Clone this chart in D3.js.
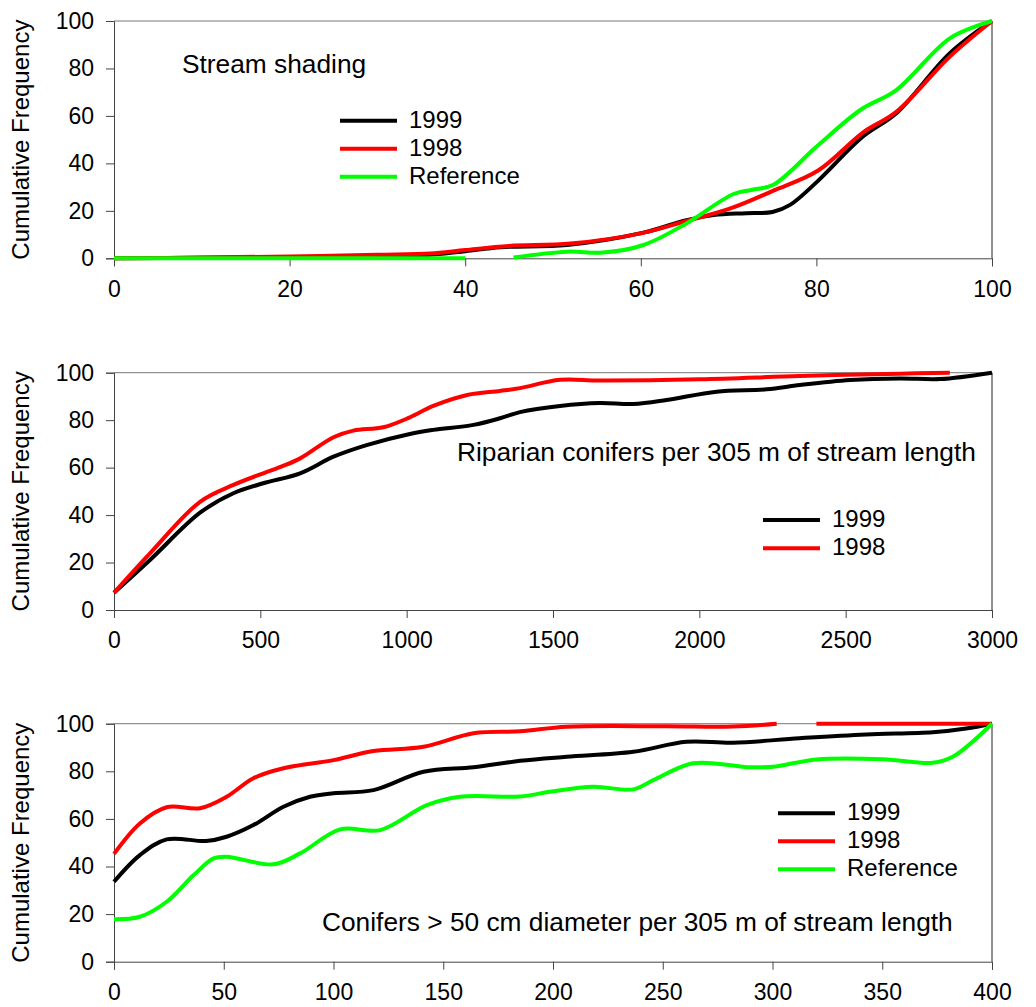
<!DOCTYPE html>
<html>
<head>
<meta charset="utf-8">
<script src="https://cdn.jsdelivr.net/npm/d3@7"></script>
<style>
  html, body { margin: 0; padding: 0; background: #fff; }
  svg { display: block; font-family: "Liberation Sans", Arial, sans-serif; }
</style>
</head>
<body>
<svg id="chart" width="1036" height="1007"></svg>
<script>
// ---- Panel 1: stream shading (%) ----
const shadeX1999 = [0, 10, 20, 30, 35, 40, 44, 51.6, 60.3, 65.2, 68.3, 72, 75, 77, 80, 85.3, 89.1, 95.2, 100];
const shadeY1999 = [0, 0.2, 0.4, 0.8, 1.2, 3.0, 4.7, 5.6, 10.8, 16.1, 18.2, 19.0, 19.5, 22.5, 32, 51.3, 61.1, 86.4, 100];
const shadeX1998 = [0, 10, 20, 30, 36, 40, 45, 52, 60, 65, 70.2, 75.1, 80.2, 85.3, 89.1, 95.2, 100];
const shadeY1998 = [0, 0.3, 0.8, 1.5, 2.0, 3.5, 5.2, 6.2, 10.5, 15.5, 21, 28.5, 37, 53, 61.7, 85, 100];
const shadeXRef  = [0, 20, 40, 43, 45.5, 51.6, 55.7, 60.3, 65.2, 70.5, 72.6, 75.1, 80, 85, 89.1, 95.2, 100];
const shadeYRef  = [0, 0, 0, null, 0.3, 2.8, 2.4, 5.6, 14.7, 27, 28.8, 31, 47, 62.5, 70.9, 92.7, 100];
const shadeTicks = [0, 20, 40, 60, 80, 100];

// ---- Panel 2: riparian conifers per 305 m ----
const riparX1999 = [0, 123, 294, 408, 510, 636, 750, 863, 1011, 1091, 1228, 1319, 1387, 1524, 1660, 1774, 1888, 2059, 2230, 2344, 2515, 2686, 2822, 3000];
const riparY1999 = [7.3, 21.1, 41, 49.2, 53.4, 57.6, 64.6, 69.5, 74.2, 75.9, 78.0, 80.8, 83.4, 86.0, 87.2, 86.8, 88.5, 92.0, 93.0, 94.8, 96.9, 97.6, 97.3, 100];
const riparX1998 = [0, 123, 294, 408, 510, 578, 636, 750, 818, 920, 1011, 1091, 1207, 1319, 1387, 1524, 1660, 2002, 2344, 2686, 2856];
const riparY1998 = [7.3, 23.9, 45.6, 52.7, 57.6, 60.7, 63.9, 72.8, 75.6, 77.0, 81.2, 86.0, 90.6, 92.3, 93.5, 97.0, 96.7, 97.2, 98.6, 99.6, 100];
const riparTicks = [0, 500, 1000, 1500, 2000, 2500, 3000];

// ---- Panel 3: conifers > 50 cm diameter per 305 m ----
const bigX1999 = [0, 11.8, 24, 41.9, 51.3, 63.5, 77.2, 89.3, 100, 118.2, 141, 163.8, 185, 206.2, 236.6, 260.8, 282, 312.3, 342.6, 373, 388.2, 400];
const bigY1999 = [33.6, 44.8, 51.4, 50.7, 52.5, 57.4, 65.1, 69.3, 70.8, 72.1, 79.8, 81.7, 84.4, 86.1, 88.2, 92.4, 92.0, 93.9, 95.5, 96.4, 98, 100];
const bigX1998 = [0, 11.8, 24, 39.2, 51.3, 63.5, 77.2, 100, 118.2, 141, 163.8, 185, 206.2, 251.7, 282, 301.9, 310, 320, 360, 400];
const bigY1998 = [45.3, 58.1, 64.9, 64.5, 69.3, 77.1, 81.3, 84.7, 88.5, 90.3, 96.0, 96.8, 98.7, 98.9, 98.8, 100, null, 100, 100, 100];
const bigXRef  = [0, 11.8, 24, 36.3, 45.4, 51.3, 72.6, 84.8, 103, 121.3, 142.5, 157.7, 185, 198.6, 218.3, 236.6, 245.7, 263.9, 289.7, 300.3, 320, 350.3, 373, 382.1, 400];
const bigYRef  = [17.8, 18.9, 25.2, 36.4, 43.4, 44.1, 40.9, 45.5, 55.6, 55.3, 65.8, 69.3, 69.4, 71.4, 73.5, 72.4, 76.3, 83.4, 81.7, 81.9, 85.0, 85.1, 83.6, 86.1, 100];
const bigTicks = [0, 50, 100, 150, 200, 250, 300, 350, 400];

const freqTicks = [0, 20, 40, 60, 80, 100];
const seriesNames = ["1999", "1998", "Reference"];
const seriesColors = { "1999": "#000000", "1998": "#ff0000", "Reference": "#00ff00" };

const svg = d3.select("#chart");
const left = 114, right = 992;

function zipSeries(xs, ys) {
  return xs.map((x, i) => ({ x, y: ys[i] }));
}

function drawPanel(cfg) {
  const x = d3.scaleLinear().domain(cfg.xDomain).range([left, right]);
  const y = d3.scaleLinear().domain([0, 100]).range([cfg.bottom, cfg.top]);
  const g = svg.append("g");

  // frame: top and right edges
  g.append("line").attr("x1", left).attr("x2", right).attr("y1", cfg.top).attr("y2", cfg.top)
    .attr("stroke", "#777").attr("stroke-width", 1);
  g.append("line").attr("x1", right).attr("x2", right).attr("y1", cfg.top).attr("y2", cfg.bottom)
    .attr("stroke", "#222").attr("stroke-width", 1);

  const xAxis = g.append("g").attr("transform", `translate(0,${cfg.bottom})`)
    .call(d3.axisBottom(x).tickValues(cfg.xTicks).tickSize(8).tickPadding(14).tickFormat(d3.format("d")));
  const yAxis = g.append("g").attr("transform", `translate(${left},0)`)
    .call(d3.axisLeft(y).tickValues(freqTicks).tickSize(8).tickPadding(12).tickFormat(d3.format("d")));
  [xAxis, yAxis].forEach(a => {
    a.select(".domain").attr("stroke", "#444");
    a.selectAll(".tick line").attr("stroke", "#444");
    a.selectAll("text").attr("font-size", 23).attr("fill", "#000")
      .attr("font-family", "'Liberation Sans', Arial, sans-serif");
  });

  g.append("text")
    .attr("transform", `translate(29,${(cfg.top + cfg.bottom) / 2}) rotate(-90)`)
    .attr("text-anchor", "middle").attr("font-size", 24).attr("fill", "#000")
    .text("Cumulative Frequency");

  const line = d3.line()
    .defined(d => d.y !== null)
    .x(d => x(d.x)).y(d => y(d.y))
    .curve(d3.curveCatmullRom.alpha(0.5));

  cfg.series.forEach(s => {
    g.append("path").datum(zipSeries(s.xs, s.ys))
      .attr("fill", "none").attr("stroke", seriesColors[s.name])
      .attr("stroke-width", 4).attr("stroke-linejoin", "round").attr("stroke-linecap", "butt")
      .attr("d", line);
  });

  g.append("text").attr("x", cfg.note.x).attr("y", cfg.note.y)
    .attr("font-size", 26.3).attr("fill", "#000").text(cfg.note.text);

  cfg.series.forEach((s, i) => {
    const ly = cfg.legend.y + i * cfg.legend.step;
    g.append("line").attr("x1", cfg.legend.x).attr("x2", cfg.legend.x + 57)
      .attr("y1", ly).attr("y2", ly).attr("stroke", seriesColors[s.name]).attr("stroke-width", 4);
    g.append("text").attr("x", cfg.legend.x + 69).attr("y", ly + 7)
      .attr("font-size", 24).attr("fill", "#000").text(s.name);
  });
}

drawPanel({
  top: 21, bottom: 258.3, xDomain: [0, 100], xTicks: shadeTicks,
  series: [
    { name: seriesNames[0], xs: shadeX1999, ys: shadeY1999 },
    { name: seriesNames[1], xs: shadeX1998, ys: shadeY1998 },
    { name: seriesNames[2], xs: shadeXRef, ys: shadeYRef }
  ],
  note: { x: 182, y: 73, text: "Stream shading" },
  legend: { x: 340, y: 120.7, step: 28 }
});

drawPanel({
  top: 372.7, bottom: 610, xDomain: [0, 3000], xTicks: riparTicks,
  series: [
    { name: seriesNames[0], xs: riparX1999, ys: riparY1999 },
    { name: seriesNames[1], xs: riparX1998, ys: riparY1998 }
  ],
  note: { x: 457, y: 461, text: "Riparian conifers per 305 m of stream length" },
  legend: { x: 763, y: 520, step: 28.3 }
});

drawPanel({
  top: 723.7, bottom: 961.7, xDomain: [0, 400], xTicks: bigTicks,
  series: [
    { name: seriesNames[0], xs: bigX1999, ys: bigY1999 },
    { name: seriesNames[1], xs: bigX1998, ys: bigY1998 },
    { name: seriesNames[2], xs: bigXRef, ys: bigYRef }
  ],
  note: { x: 322, y: 931, text: "Conifers > 50 cm diameter per 305 m of stream length" },
  legend: { x: 778, y: 813.3, step: 28 }
});
</script>
</body>
</html>
